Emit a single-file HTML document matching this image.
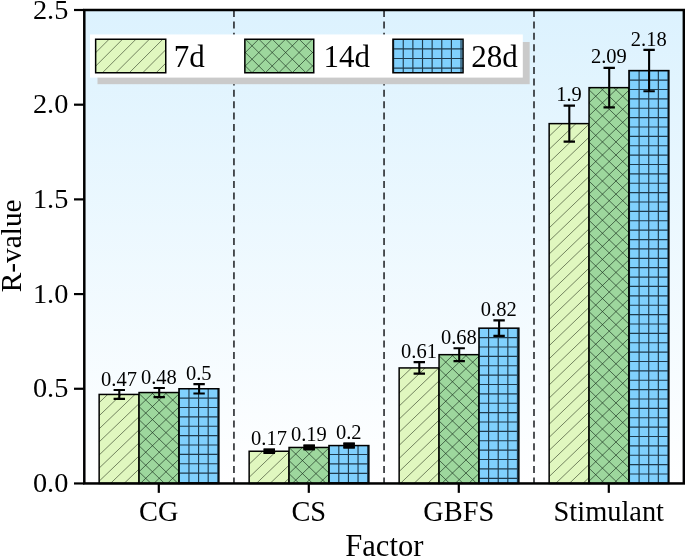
<!DOCTYPE html>
<html><head><meta charset="utf-8"><title>chart</title>
<style>html,body{margin:0;padding:0;background:#fff}body{width:685px;height:556px;overflow:hidden}</style></head>
<body>
<svg width="685" height="556" viewBox="0 0 685 556" style="display:block;will-change:transform;font-family:'Liberation Serif',serif">
<defs><linearGradient id="bg" x1="0" y1="0" x2="0" y2="1"><stop offset="0" stop-color="#dcf2fe"/><stop offset="1" stop-color="#ffffff"/></linearGradient></defs>
<rect x="0" y="0" width="685" height="556" fill="#fff"/>
<rect x="84.3" y="10.0" width="599.5500000000001" height="473.45" fill="url(#bg)"/>
<line x1="233.95" y1="10.0" x2="233.95" y2="483.45" stroke="#26282c" stroke-width="1.6" stroke-dasharray="7.0 4.4"/>
<line x1="384.05" y1="10.0" x2="384.05" y2="483.45" stroke="#26282c" stroke-width="1.6" stroke-dasharray="7.0 4.4"/>
<line x1="534.0" y1="10.0" x2="534.0" y2="483.45" stroke="#26282c" stroke-width="1.6" stroke-dasharray="7.0 4.4"/>
<rect x="99.15" y="394.44" width="39.9" height="89.01" fill="#e0f7bf"/>
<clipPath id="c1"><rect x="99.15" y="394.44" width="39.90" height="89.01"/></clipPath>
<g clip-path="url(#c1)" fill="none">
<path d="M97.15 548.56L141.05 506.43M97.15 535.47L141.05 493.34M97.15 522.38L141.05 480.25M97.15 509.29L141.05 467.16M97.15 496.20L141.05 454.07M97.15 483.11L141.05 440.98M97.15 470.02L141.05 427.89M97.15 456.93L141.05 414.80M97.15 443.84L141.05 401.71M97.15 430.75L141.05 388.62M97.15 417.66L141.05 375.53M97.15 404.57L141.05 362.44M97.15 391.48L141.05 349.35M97.15 378.39L141.05 336.26" stroke="#26331c" stroke-width="0.7" stroke-opacity="0.85"/>
</g>
<rect x="99.15" y="394.44" width="39.9" height="89.01" fill="none" stroke="#000" stroke-width="1.5"/>
<rect x="139.05" y="392.55" width="39.9" height="90.90" fill="#9dd79d"/>
<clipPath id="c2"><rect x="139.05" y="392.55" width="39.90" height="90.90"/></clipPath>
<g clip-path="url(#c2)" fill="none">
<path d="M137.05 538.88L180.95 496.41M137.05 525.83L180.95 483.36M137.05 512.78L180.95 470.31M137.05 499.73L180.95 457.26M137.05 486.68L180.95 444.21M137.05 473.63L180.95 431.16M137.05 460.58L180.95 418.11M137.05 447.53L180.95 405.06M137.05 434.48L180.95 392.01M137.05 421.43L180.95 378.96M137.05 408.38L180.95 365.91M137.05 395.33L180.95 352.86M137.05 382.28L180.95 339.81M137.05 369.23L180.95 326.76M137.05 326.37L180.95 368.84M137.05 339.42L180.95 381.89M137.05 352.47L180.95 394.94M137.05 365.52L180.95 407.99M137.05 378.57L180.95 421.04M137.05 391.62L180.95 434.09M137.05 404.67L180.95 447.14M137.05 417.72L180.95 460.19M137.05 430.77L180.95 473.24M137.05 443.82L180.95 486.29M137.05 456.87L180.95 499.34M137.05 469.92L180.95 512.39M137.05 482.97L180.95 525.44M137.05 496.02L180.95 538.49" stroke="#1c3320" stroke-width="0.8" stroke-opacity="0.85"/>
</g>
<rect x="139.05" y="392.55" width="39.9" height="90.90" fill="none" stroke="#000" stroke-width="1.5"/>
<rect x="178.95" y="388.76" width="39.9" height="94.69" fill="#80d0fd"/>
<clipPath id="c3"><rect x="178.95" y="388.76" width="39.90" height="94.69"/></clipPath>
<g clip-path="url(#c3)" fill="none">
<path d="M179.33 388.76V483.45M188.95 388.76V483.45M198.57 388.76V483.45M208.19 388.76V483.45M217.81 388.76V483.45M178.95 398.08H218.85M178.95 407.45H218.85M178.95 416.83H218.85M178.95 426.21H218.85M178.95 435.59H218.85M178.95 444.97H218.85M178.95 454.34H218.85M178.95 463.72H218.85M178.95 473.10H218.85M178.95 482.48H218.85" stroke="#0a1a26" stroke-width="1.15" stroke-opacity="0.82"/>
</g>
<rect x="178.95" y="388.76" width="39.9" height="94.69" fill="none" stroke="#000" stroke-width="1.5"/>
<rect x="249.15" y="451.26" width="39.9" height="32.19" fill="#e0f7bf"/>
<clipPath id="c4"><rect x="249.15" y="451.26" width="39.90" height="32.19"/></clipPath>
<g clip-path="url(#c4)" fill="none">
<path d="M247.15 544.67L291.05 502.54M247.15 531.58L291.05 489.45M247.15 518.49L291.05 476.36M247.15 505.40L291.05 463.27M247.15 492.31L291.05 450.18M247.15 479.22L291.05 437.09M247.15 466.13L291.05 424.00M247.15 453.04L291.05 410.91M247.15 439.95L291.05 397.82" stroke="#26331c" stroke-width="0.7" stroke-opacity="0.85"/>
</g>
<rect x="249.15" y="451.26" width="39.9" height="32.19" fill="none" stroke="#000" stroke-width="1.5"/>
<rect x="289.05" y="447.47" width="39.9" height="35.98" fill="#9dd79d"/>
<clipPath id="c5"><rect x="289.05" y="447.47" width="39.90" height="35.98"/></clipPath>
<g clip-path="url(#c5)" fill="none">
<path d="M287.05 540.68L330.95 498.21M287.05 527.63L330.95 485.16M287.05 514.58L330.95 472.11M287.05 501.53L330.95 459.06M287.05 488.48L330.95 446.01M287.05 475.43L330.95 432.96M287.05 462.38L330.95 419.91M287.05 449.33L330.95 406.86M287.05 436.28L330.95 393.81M287.05 393.42L330.95 435.89M287.05 406.47L330.95 448.94M287.05 419.52L330.95 461.99M287.05 432.57L330.95 475.04M287.05 445.62L330.95 488.09M287.05 458.67L330.95 501.14M287.05 471.72L330.95 514.19M287.05 484.77L330.95 527.24M287.05 497.82L330.95 540.29" stroke="#1c3320" stroke-width="0.8" stroke-opacity="0.85"/>
</g>
<rect x="289.05" y="447.47" width="39.9" height="35.98" fill="none" stroke="#000" stroke-width="1.5"/>
<rect x="328.95" y="445.57" width="39.9" height="37.88" fill="#80d0fd"/>
<clipPath id="c6"><rect x="328.95" y="445.57" width="39.90" height="37.88"/></clipPath>
<g clip-path="url(#c6)" fill="none">
<path d="M329.18 445.57V483.45M338.80 445.57V483.45M348.42 445.57V483.45M358.04 445.57V483.45M367.66 445.57V483.45M328.95 454.54H368.85M328.95 463.92H368.85M328.95 473.30H368.85M328.95 482.68H368.85" stroke="#0a1a26" stroke-width="1.15" stroke-opacity="0.82"/>
</g>
<rect x="328.95" y="445.57" width="39.9" height="37.88" fill="none" stroke="#000" stroke-width="1.5"/>
<rect x="399.15" y="367.93" width="39.9" height="115.52" fill="#e0f7bf"/>
<clipPath id="c7"><rect x="399.15" y="367.93" width="39.90" height="115.52"/></clipPath>
<g clip-path="url(#c7)" fill="none">
<path d="M397.15 538.87L441.05 496.74M397.15 525.78L441.05 483.65M397.15 512.69L441.05 470.56M397.15 499.60L441.05 457.47M397.15 486.51L441.05 444.38M397.15 473.42L441.05 431.29M397.15 460.33L441.05 418.20M397.15 447.24L441.05 405.11M397.15 434.15L441.05 392.02M397.15 421.06L441.05 378.93M397.15 407.97L441.05 365.84M397.15 394.88L441.05 352.75M397.15 381.79L441.05 339.66M397.15 368.70L441.05 326.57M397.15 355.61L441.05 313.48" stroke="#26331c" stroke-width="0.7" stroke-opacity="0.85"/>
</g>
<rect x="399.15" y="367.93" width="39.9" height="115.52" fill="none" stroke="#000" stroke-width="1.5"/>
<rect x="439.05" y="354.67" width="39.9" height="128.78" fill="#9dd79d"/>
<clipPath id="c8"><rect x="439.05" y="354.67" width="39.90" height="128.78"/></clipPath>
<g clip-path="url(#c8)" fill="none">
<path d="M437.05 540.18L480.95 497.71M437.05 527.13L480.95 484.66M437.05 514.08L480.95 471.61M437.05 501.03L480.95 458.56M437.05 487.98L480.95 445.51M437.05 474.93L480.95 432.46M437.05 461.88L480.95 419.41M437.05 448.83L480.95 406.36M437.05 435.78L480.95 393.31M437.05 422.73L480.95 380.26M437.05 409.68L480.95 367.21M437.05 396.63L480.95 354.16M437.05 383.58L480.95 341.11M437.05 370.53L480.95 328.06M437.05 357.48L480.95 315.01M437.05 344.43L480.95 301.96M437.05 331.38L480.95 288.91M437.05 288.52L480.95 330.99M437.05 301.57L480.95 344.04M437.05 314.62L480.95 357.09M437.05 327.67L480.95 370.14M437.05 340.72L480.95 383.19M437.05 353.77L480.95 396.24M437.05 366.82L480.95 409.29M437.05 379.87L480.95 422.34M437.05 392.92L480.95 435.39M437.05 405.97L480.95 448.44M437.05 419.02L480.95 461.49M437.05 432.07L480.95 474.54M437.05 445.12L480.95 487.59M437.05 458.17L480.95 500.64M437.05 471.22L480.95 513.69M437.05 484.27L480.95 526.74M437.05 497.32L480.95 539.79" stroke="#1c3320" stroke-width="0.8" stroke-opacity="0.85"/>
</g>
<rect x="439.05" y="354.67" width="39.9" height="128.78" fill="none" stroke="#000" stroke-width="1.5"/>
<rect x="478.95" y="328.16" width="39.9" height="155.29" fill="#80d0fd"/>
<clipPath id="c9"><rect x="478.95" y="328.16" width="39.90" height="155.29"/></clipPath>
<g clip-path="url(#c9)" fill="none">
<path d="M478.98 328.16V483.45M488.60 328.16V483.45M498.22 328.16V483.45M507.84 328.16V483.45M517.46 328.16V483.45M478.95 328.25H518.85M478.95 337.63H518.85M478.95 347.01H518.85M478.95 356.39H518.85M478.95 365.76H518.85M478.95 375.14H518.85M478.95 384.52H518.85M478.95 393.90H518.85M478.95 403.28H518.85M478.95 412.65H518.85M478.95 422.03H518.85M478.95 431.41H518.85M478.95 440.79H518.85M478.95 450.17H518.85M478.95 459.54H518.85M478.95 468.92H518.85M478.95 478.30H518.85" stroke="#0a1a26" stroke-width="1.15" stroke-opacity="0.82"/>
</g>
<rect x="478.95" y="328.16" width="39.9" height="155.29" fill="none" stroke="#000" stroke-width="1.5"/>
<rect x="549.15" y="123.63" width="39.9" height="359.82" fill="#e0f7bf"/>
<clipPath id="c10"><rect x="549.15" y="123.63" width="39.90" height="359.82"/></clipPath>
<g clip-path="url(#c10)" fill="none">
<path d="M547.15 543.97L591.05 501.84M547.15 530.88L591.05 488.75M547.15 517.79L591.05 475.66M547.15 504.70L591.05 462.57M547.15 491.61L591.05 449.48M547.15 478.52L591.05 436.39M547.15 465.43L591.05 423.30M547.15 452.34L591.05 410.21M547.15 439.25L591.05 397.12M547.15 426.16L591.05 384.03M547.15 413.07L591.05 370.94M547.15 399.98L591.05 357.85M547.15 386.89L591.05 344.76M547.15 373.80L591.05 331.67M547.15 360.71L591.05 318.58M547.15 347.62L591.05 305.49M547.15 334.53L591.05 292.40M547.15 321.44L591.05 279.31M547.15 308.35L591.05 266.22M547.15 295.26L591.05 253.13M547.15 282.17L591.05 240.04M547.15 269.08L591.05 226.95M547.15 255.99L591.05 213.86M547.15 242.90L591.05 200.77M547.15 229.81L591.05 187.68M547.15 216.72L591.05 174.59M547.15 203.63L591.05 161.50M547.15 190.54L591.05 148.41M547.15 177.45L591.05 135.32M547.15 164.36L591.05 122.23M547.15 151.27L591.05 109.14M547.15 138.18L591.05 96.05M547.15 125.09L591.05 82.96M547.15 112.00L591.05 69.87" stroke="#26331c" stroke-width="0.7" stroke-opacity="0.85"/>
</g>
<rect x="549.15" y="123.63" width="39.9" height="359.82" fill="none" stroke="#000" stroke-width="1.5"/>
<rect x="589.05" y="87.65" width="39.9" height="395.80" fill="#9dd79d"/>
<clipPath id="c11"><rect x="589.05" y="87.65" width="39.90" height="395.80"/></clipPath>
<g clip-path="url(#c11)" fill="none">
<path d="M587.05 548.33L630.95 505.86M587.05 535.28L630.95 492.81M587.05 522.23L630.95 479.76M587.05 509.18L630.95 466.71M587.05 496.13L630.95 453.66M587.05 483.08L630.95 440.61M587.05 470.03L630.95 427.56M587.05 456.98L630.95 414.51M587.05 443.93L630.95 401.46M587.05 430.88L630.95 388.41M587.05 417.83L630.95 375.36M587.05 404.78L630.95 362.31M587.05 391.73L630.95 349.26M587.05 378.68L630.95 336.21M587.05 365.63L630.95 323.16M587.05 352.58L630.95 310.11M587.05 339.53L630.95 297.06M587.05 326.48L630.95 284.01M587.05 313.43L630.95 270.96M587.05 300.38L630.95 257.91M587.05 287.33L630.95 244.86M587.05 274.28L630.95 231.81M587.05 261.23L630.95 218.76M587.05 248.18L630.95 205.71M587.05 235.13L630.95 192.66M587.05 222.08L630.95 179.61M587.05 209.03L630.95 166.56M587.05 195.98L630.95 153.51M587.05 182.93L630.95 140.46M587.05 169.88L630.95 127.41M587.05 156.83L630.95 114.36M587.05 143.78L630.95 101.31M587.05 130.73L630.95 88.26M587.05 117.68L630.95 75.21M587.05 104.63L630.95 62.16M587.05 91.58L630.95 49.11M587.05 78.53L630.95 36.06M587.05 65.48L630.95 23.01M587.05 22.62L630.95 65.09M587.05 35.67L630.95 78.14M587.05 48.72L630.95 91.19M587.05 61.77L630.95 104.24M587.05 74.82L630.95 117.29M587.05 87.87L630.95 130.34M587.05 100.92L630.95 143.39M587.05 113.97L630.95 156.44M587.05 127.02L630.95 169.49M587.05 140.07L630.95 182.54M587.05 153.12L630.95 195.59M587.05 166.17L630.95 208.64M587.05 179.22L630.95 221.69M587.05 192.27L630.95 234.74M587.05 205.32L630.95 247.79M587.05 218.37L630.95 260.84M587.05 231.42L630.95 273.89M587.05 244.47L630.95 286.94M587.05 257.52L630.95 299.99M587.05 270.57L630.95 313.04M587.05 283.62L630.95 326.09M587.05 296.67L630.95 339.14M587.05 309.72L630.95 352.19M587.05 322.77L630.95 365.24M587.05 335.82L630.95 378.29M587.05 348.87L630.95 391.34M587.05 361.92L630.95 404.39M587.05 374.97L630.95 417.44M587.05 388.02L630.95 430.49M587.05 401.07L630.95 443.54M587.05 414.12L630.95 456.59M587.05 427.17L630.95 469.64M587.05 440.22L630.95 482.69M587.05 453.27L630.95 495.74M587.05 466.32L630.95 508.79M587.05 479.37L630.95 521.84M587.05 492.42L630.95 534.89M587.05 505.47L630.95 547.94" stroke="#1c3320" stroke-width="0.8" stroke-opacity="0.85"/>
</g>
<rect x="589.05" y="87.65" width="39.9" height="395.80" fill="none" stroke="#000" stroke-width="1.5"/>
<rect x="628.95" y="70.60" width="39.9" height="412.85" fill="#80d0fd"/>
<clipPath id="c12"><rect x="628.95" y="70.60" width="39.90" height="412.85"/></clipPath>
<g clip-path="url(#c12)" fill="none">
<path d="M629.48 70.60V483.45M639.10 70.60V483.45M648.72 70.60V483.45M658.34 70.60V483.45M667.96 70.60V483.45M628.95 70.75H668.85M628.95 80.12H668.85M628.95 89.50H668.85M628.95 98.88H668.85M628.95 108.26H668.85M628.95 117.64H668.85M628.95 127.01H668.85M628.95 136.39H668.85M628.95 145.77H668.85M628.95 155.15H668.85M628.95 164.53H668.85M628.95 173.90H668.85M628.95 183.28H668.85M628.95 192.66H668.85M628.95 202.04H668.85M628.95 211.42H668.85M628.95 220.79H668.85M628.95 230.17H668.85M628.95 239.55H668.85M628.95 248.93H668.85M628.95 258.31H668.85M628.95 267.68H668.85M628.95 277.06H668.85M628.95 286.44H668.85M628.95 295.82H668.85M628.95 305.20H668.85M628.95 314.57H668.85M628.95 323.95H668.85M628.95 333.33H668.85M628.95 342.71H668.85M628.95 352.09H668.85M628.95 361.46H668.85M628.95 370.84H668.85M628.95 380.22H668.85M628.95 389.60H668.85M628.95 398.98H668.85M628.95 408.35H668.85M628.95 417.73H668.85M628.95 427.11H668.85M628.95 436.49H668.85M628.95 445.87H668.85M628.95 455.24H668.85M628.95 464.62H668.85M628.95 474.00H668.85M628.95 483.38H668.85" stroke="#0a1a26" stroke-width="1.15" stroke-opacity="0.82"/>
</g>
<rect x="628.95" y="70.60" width="39.9" height="412.85" fill="none" stroke="#000" stroke-width="1.5"/>
<path d="M119.30 389.99V398.89" stroke="#000" stroke-width="2.1" fill="none"/><path d="M113.60 389.99H125.00M113.60 398.89H125.00" stroke="#000" stroke-width="2.2" fill="none"/>
<text x="119.00" y="385.59" font-size="20.5" text-anchor="middle" fill="#000">0.47</text>
<path d="M159.20 388.00V397.09" stroke="#000" stroke-width="2.1" fill="none"/><path d="M153.50 388.00H164.90M153.50 397.09H164.90" stroke="#000" stroke-width="2.2" fill="none"/>
<text x="158.90" y="383.60" font-size="20.5" text-anchor="middle" fill="#000">0.48</text>
<path d="M199.10 384.03V393.49" stroke="#000" stroke-width="2.1" fill="none"/><path d="M193.40 384.03H204.80M193.40 393.49H204.80" stroke="#000" stroke-width="2.2" fill="none"/>
<text x="198.80" y="379.63" font-size="20.5" text-anchor="middle" fill="#000">0.5</text>
<rect x="263.60" y="448.65" width="11.4" height="5.22" fill="#000"/>
<path d="M269.30 449.65V452.87" stroke="#000" stroke-width="2.1" fill="none"/><path d="M263.60 449.65H275.00M263.60 452.87H275.00" stroke="#000" stroke-width="2.2" fill="none"/>
<text x="269.00" y="445.25" font-size="20.5" text-anchor="middle" fill="#000">0.17</text>
<rect x="303.50" y="444.67" width="11.4" height="5.60" fill="#000"/>
<path d="M309.20 445.67V449.27" stroke="#000" stroke-width="2.1" fill="none"/><path d="M303.50 445.67H314.90M303.50 449.27H314.90" stroke="#000" stroke-width="2.2" fill="none"/>
<text x="308.90" y="441.27" font-size="20.5" text-anchor="middle" fill="#000">0.19</text>
<rect x="343.40" y="442.68" width="11.4" height="5.79" fill="#000"/>
<path d="M349.10 443.68V447.47" stroke="#000" stroke-width="2.1" fill="none"/><path d="M343.40 443.68H354.80M343.40 447.47H354.80" stroke="#000" stroke-width="2.2" fill="none"/>
<text x="348.80" y="439.28" font-size="20.5" text-anchor="middle" fill="#000">0.2</text>
<path d="M419.30 362.15V373.70" stroke="#000" stroke-width="2.1" fill="none"/><path d="M413.60 362.15H425.00M413.60 373.70H425.00" stroke="#000" stroke-width="2.2" fill="none"/>
<text x="419.00" y="357.75" font-size="20.5" text-anchor="middle" fill="#000">0.61</text>
<path d="M459.20 348.23V361.11" stroke="#000" stroke-width="2.1" fill="none"/><path d="M453.50 348.23H464.90M453.50 361.11H464.90" stroke="#000" stroke-width="2.2" fill="none"/>
<text x="458.90" y="343.83" font-size="20.5" text-anchor="middle" fill="#000">0.68</text>
<path d="M499.10 320.39V335.92" stroke="#000" stroke-width="2.1" fill="none"/><path d="M493.40 320.39H504.80M493.40 335.92H504.80" stroke="#000" stroke-width="2.2" fill="none"/>
<text x="498.80" y="315.99" font-size="20.5" text-anchor="middle" fill="#000">0.82</text>
<path d="M569.30 105.64V141.62" stroke="#000" stroke-width="2.1" fill="none"/><path d="M563.60 105.64H575.00M563.60 141.62H575.00" stroke="#000" stroke-width="2.2" fill="none"/>
<text x="569.00" y="101.24" font-size="20.5" text-anchor="middle" fill="#000">1.9</text>
<path d="M609.20 67.86V107.44" stroke="#000" stroke-width="2.1" fill="none"/><path d="M603.50 67.86H614.90M603.50 107.44H614.90" stroke="#000" stroke-width="2.2" fill="none"/>
<text x="608.90" y="63.46" font-size="20.5" text-anchor="middle" fill="#000">2.09</text>
<path d="M649.10 49.96V91.24" stroke="#000" stroke-width="2.1" fill="none"/><path d="M643.40 49.96H654.80M643.40 91.24H654.80" stroke="#000" stroke-width="2.2" fill="none"/>
<text x="648.80" y="45.56" font-size="20.5" text-anchor="middle" fill="#000">2.18</text>
<rect x="84.3" y="10.0" width="599.5500000000001" height="473.45" fill="none" stroke="#000" stroke-width="2.5"/>
<line x1="74.0" y1="483.45" x2="84.3" y2="483.45" stroke="#000" stroke-width="2.2"/>
<text x="68.3" y="491.95" font-size="28.3" text-anchor="end">0.0</text>
<line x1="74.0" y1="388.76" x2="84.3" y2="388.76" stroke="#000" stroke-width="2.2"/>
<text x="68.3" y="397.26" font-size="28.3" text-anchor="end">0.5</text>
<line x1="74.0" y1="294.07" x2="84.3" y2="294.07" stroke="#000" stroke-width="2.2"/>
<text x="68.3" y="302.57" font-size="28.3" text-anchor="end">1.0</text>
<line x1="74.0" y1="199.38" x2="84.3" y2="199.38" stroke="#000" stroke-width="2.2"/>
<text x="68.3" y="207.88" font-size="28.3" text-anchor="end">1.5</text>
<line x1="74.0" y1="104.69" x2="84.3" y2="104.69" stroke="#000" stroke-width="2.2"/>
<text x="68.3" y="113.19" font-size="28.3" text-anchor="end">2.0</text>
<line x1="74.0" y1="10.00" x2="84.3" y2="10.00" stroke="#000" stroke-width="2.2"/>
<text x="68.3" y="18.50" font-size="28.3" text-anchor="end">2.5</text>
<line x1="158.8" y1="483.45" x2="158.8" y2="492.84999999999997" stroke="#000" stroke-width="2.2"/>
<text x="158.8" y="521.0" font-size="28.4" text-anchor="middle">CG</text>
<line x1="308.8" y1="483.45" x2="308.8" y2="492.84999999999997" stroke="#000" stroke-width="2.2"/>
<text x="308.8" y="521.0" font-size="28.4" text-anchor="middle">CS</text>
<line x1="458.8" y1="483.45" x2="458.8" y2="492.84999999999997" stroke="#000" stroke-width="2.2"/>
<text x="458.8" y="521.0" font-size="28.4" text-anchor="middle">GBFS</text>
<line x1="608.8" y1="483.45" x2="608.8" y2="492.84999999999997" stroke="#000" stroke-width="2.2"/>
<text x="608.8" y="521.0" font-size="28.4" text-anchor="middle">Stimulant</text>
<text x="384.3" y="555.7" font-size="30.6" text-anchor="middle">Factor</text>
<text transform="translate(21.3,245.8) rotate(-90)" font-size="29.3" text-anchor="middle">R-value</text>
<rect x="97.5" y="42.0" width="432.2" height="42.2" fill="#cacaca"/>
<rect x="90" y="34.45" width="432.8" height="43.15" fill="#fff"/>
<rect x="95.65" y="39.25" width="70.1" height="33.5" fill="#e0f7bf"/>
<clipPath id="c13"><rect x="95.65" y="39.25" width="70.10" height="33.50"/></clipPath>
<g clip-path="url(#c13)" fill="none">
<path d="M93.65 162.13L167.75 88.03M93.65 148.70L167.75 74.60M93.65 135.27L167.75 61.17M93.65 121.84L167.75 47.74M93.65 108.41L167.75 34.31M93.65 94.98L167.75 20.88M93.65 81.55L167.75 7.45M93.65 68.12L167.75 -5.98M93.65 54.69L167.75 -19.41M93.65 41.26L167.75 -32.84M93.65 27.83L167.75 -46.27M93.65 14.40L167.75 -59.70" stroke="#26331c" stroke-width="0.7" stroke-opacity="0.85"/>
</g>
<rect x="95.65" y="39.25" width="70.1" height="33.5" fill="none" stroke="#000" stroke-width="1.5"/>
<text x="173.8" y="67.1" font-size="31">7d</text>
<rect x="244.85" y="39.25" width="68.9" height="33.5" fill="#9dd79d"/>
<clipPath id="c14"><rect x="244.85" y="39.25" width="68.90" height="33.50"/></clipPath>
<g clip-path="url(#c14)" fill="none">
<path d="M242.85 162.43L315.75 89.53M242.85 149.00L315.75 76.10M242.85 135.57L315.75 62.67M242.85 122.14L315.75 49.24M242.85 108.71L315.75 35.81M242.85 95.28L315.75 22.38M242.85 81.85L315.75 8.95M242.85 68.42L315.75 -4.48M242.85 54.99L315.75 -17.91M242.85 41.56L315.75 -31.34M242.85 28.13L315.75 -44.77M242.85 14.70L315.75 -58.20M242.85 -57.42L315.75 15.48M242.85 -43.99L315.75 28.91M242.85 -30.56L315.75 42.34M242.85 -17.13L315.75 55.77M242.85 -3.70L315.75 69.20M242.85 9.73L315.75 82.63M242.85 23.16L315.75 96.06M242.85 36.59L315.75 109.49M242.85 50.02L315.75 122.92M242.85 63.45L315.75 136.35M242.85 76.88L315.75 149.78M242.85 90.31L315.75 163.21" stroke="#1c3320" stroke-width="0.8" stroke-opacity="0.85"/>
</g>
<rect x="244.85" y="39.25" width="68.9" height="33.5" fill="none" stroke="#000" stroke-width="1.5"/>
<text x="323.5" y="67.1" font-size="31">14d</text>
<rect x="392.95" y="39.25" width="70.1" height="33.5" fill="#80d0fd"/>
<clipPath id="c15"><rect x="392.95" y="39.25" width="70.10" height="33.50"/></clipPath>
<g clip-path="url(#c15)" fill="none">
<path d="M393.62 39.25V72.75M403.25 39.25V72.75M412.88 39.25V72.75M422.51 39.25V72.75M432.14 39.25V72.75M441.77 39.25V72.75M451.40 39.25V72.75M461.03 39.25V72.75M392.95 48.85H463.05M392.95 58.50H463.05M392.95 68.15H463.05" stroke="#0a1a26" stroke-width="1.15" stroke-opacity="0.82"/>
</g>
<rect x="392.95" y="39.25" width="70.1" height="33.5" fill="none" stroke="#000" stroke-width="1.5"/>
<text x="471.2" y="67.1" font-size="31">28d</text>
</svg>
</body></html>
